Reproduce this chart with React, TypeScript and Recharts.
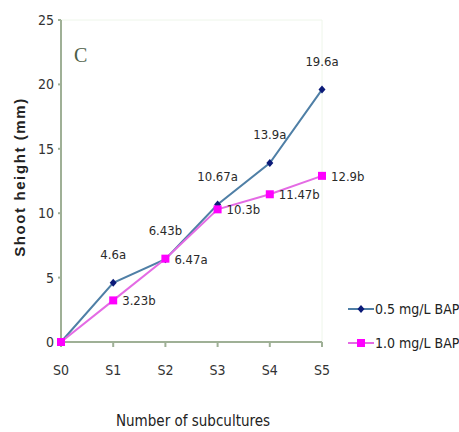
import { LineChart, Line, XAxis, YAxis, LabelList, ReferenceLine } from "recharts";

const subcultures = ["S0", "S1", "S2", "S3", "S4", "S5"];
const bap05 = [0, 4.6, 6.43, 10.67, 13.9, 19.6];
const bap10 = [0, 3.23, 6.47, 10.3, 11.47, 12.9];
const bap05Labels = ["", "4.6a", "6.43b", "10.67a", "13.9a", "19.6a"];
const bap10Labels = ["", "3.23b", "6.47a", "10.3b", "11.47b", "12.9b"];
const yTicks = [0, 5, 10, 15, 20, 25];

const data = subcultures.map((name, i) => ({
  name,
  low: bap05[i],
  high: bap10[i],
  lowLabel: bap05Labels[i],
  highLabel: bap10Labels[i],
}));

const font = "'DejaVu Sans Condensed', 'Liberation Sans Narrow', 'Arial Narrow', sans-serif";
const axisColor = "#9fb096";
const blueLine = "#4f7fa6";
const blueMark = "#0b1a78";
const pink = "#ff00ff";
const pinkLine = "#e46be4";

const Diamond = (props: any) => {
  const { cx, cy } = props;
  if (cx == null || cy == null) return null;
  return <path d={`M${cx},${cy - 4}L${cx + 3.5},${cy}L${cx},${cy + 4}L${cx - 3.5},${cy}Z`} fill={blueMark} />;
};

const Square = (props: any) => {
  const { cx, cy } = props;
  if (cx == null || cy == null) return null;
  return <rect x={cx - 4} y={cy - 4} width={8} height={8} fill={pink} />;
};

const AboveLabel = (props: any) => {
  const { x, y, value } = props;
  if (!value) return null;
  return (
    <text x={x} y={y - 24} textAnchor="middle" fontSize={13} fontFamily={font} style={{ fontStretch: "condensed" }} fill="#2a2a2a">
      {value}
    </text>
  );
};

const RightLabel = (props: any) => {
  const { x, y, value } = props;
  if (!value) return null;
  return (
    <text x={x + 9} y={y + 5} textAnchor="start" fontSize={13} fontFamily={font} style={{ fontStretch: "condensed" }} fill="#2a2a2a">
      {value}
    </text>
  );
};

const legendItems = [
  { label: "0.5 mg/L BAP", color: blueLine, mark: "diamond" },
  { label: "1.0 mg/L BAP", color: pinkLine, mark: "square" },
];

const tickStyle = { fill: "#333", fontSize: 14, fontFamily: font, style: { fontStretch: "condensed" } };

export default function App() {
  return (
    <div style={{ position: "absolute", left: 0, top: 0, width: 459, height: 432, background: "#fff" }}>
      <LineChart
        width={459}
        height={432}
        data={data}
        margin={{ top: 20, right: 137, left: 31, bottom: 50 }}
      >
        <ReferenceLine y={25} stroke="#eef6ea" />
        <ReferenceLine x="S5" stroke="#eef6ea" />
        <XAxis
          dataKey="name"
          height={40}
          stroke={axisColor}
          strokeWidth={2}
          tickSize={5}
          tickMargin={18}
          tick={tickStyle}
        />
        <YAxis
          width={30}
          domain={[0, 25]}
          ticks={yTicks}
          stroke={axisColor}
          strokeWidth={2}
          tickSize={3}
          tickMargin={4}
          tick={tickStyle}
        />
        <Line
          dataKey="low"
          stroke={blueLine}
          strokeWidth={2}
          dot={<Diamond />}
          activeDot={false}
          isAnimationActive={false}
        >
          <LabelList dataKey="lowLabel" content={<AboveLabel />} />
        </Line>
        <Line
          dataKey="high"
          stroke={pinkLine}
          strokeWidth={2}
          dot={<Square />}
          activeDot={false}
          isAnimationActive={false}
        >
          <LabelList dataKey="highLabel" content={<RightLabel />} />
        </Line>
      </LineChart>

      <div style={{ position: "absolute", left: 74, top: 44, fontFamily: "'Liberation Serif', serif", fontSize: 20, color: "#4d5e48" }}>
        C
      </div>

      <div
        style={{
          position: "absolute",
          left: 19,
          top: 177,
          transform: "translate(-50%, -50%) rotate(-90deg)",
          whiteSpace: "nowrap",
          fontFamily: "'Liberation Sans', sans-serif",
          fontWeight: "bold",
          fontSize: 15,
          letterSpacing: 1.6,
          color: "#222",
        }}
      >
        Shoot height (mm)
      </div>

      <div
        style={{
          position: "absolute",
          left: 193,
          top: 421,
          transform: "translate(-50%, -50%)",
          whiteSpace: "nowrap",
          fontFamily: font,
          fontStretch: "condensed",
          fontSize: 15,
          color: "#222",
        }}
      >
        Number of subcultures
      </div>

      <div style={{ position: "absolute", left: 348, top: 292 }}>
        {legendItems.map((it) => (
          <div key={it.label} style={{ display: "flex", alignItems: "center", height: 34, whiteSpace: "nowrap" }}>
            <svg width={26} height={12}>
              <line x1={0} y1={6} x2={26} y2={6} stroke={it.color} strokeWidth={2} />
              {it.mark === "diamond" ? (
                <path d="M13,2L16.5,6L13,10L9.5,6Z" fill={blueMark} />
              ) : (
                <rect x={9} y={2} width={8} height={8} fill={pink} />
              )}
            </svg>
            <span style={{ fontFamily: font, fontStretch: "condensed", fontSize: 14, color: "#222", marginLeft: 1 }}>{it.label}</span>
          </div>
        ))}
      </div>
    </div>
  );
}
